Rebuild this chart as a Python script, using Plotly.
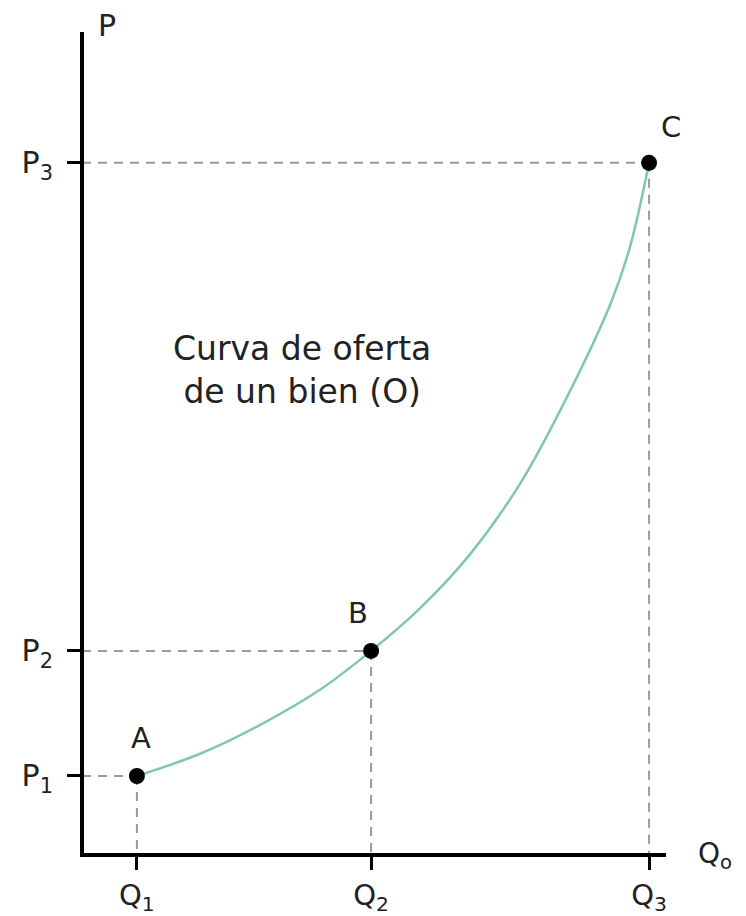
import plotly.graph_objects as go

# puntos A, B, C de la curva de oferta
point_names = ["A", "B", "C"]
q_values = [0.94, 4.95, 9.71]
p_values = [0.96, 2.48, 8.41]
q_labels = ["Q<sub>1</sub>", "Q<sub>2</sub>", "Q<sub>3</sub>"]
p_labels = ["P<sub>1</sub>", "P<sub>2</sub>", "P<sub>3</sub>"]

# curva
curve_q = [0.94, 2.02, 3.10, 4.08, 4.95, 5.79, 6.64, 7.50, 8.18, 9.04, 9.38, 9.71]
curve_p = [0.96, 1.23, 1.60, 2.01, 2.48, 3.00, 3.65, 4.51, 5.39, 6.68, 7.38, 8.41]

font = "DejaVu Sans, sans-serif"
txt = "#222"

fig = go.Figure()

# curva de oferta
fig.add_trace(go.Scatter(x=curve_q, y=curve_p, mode="lines",
                         line=dict(color="#80c9a6", width=2.5, shape="spline", smoothing=1.0),
                         hoverinfo="skip"))

# lineas punteadas hacia los ejes
for q, p in zip(q_values, p_values):
    fig.add_trace(go.Scatter(x=[0, q], y=[p, p], mode="lines",
                             line=dict(color="#9a9a9a", width=2, dash="9px,7px"), hoverinfo="skip"))
    fig.add_trace(go.Scatter(x=[q, q], y=[p, 0], mode="lines",
                             line=dict(color="#9a9a9a", width=2, dash="9px,7px"), hoverinfo="skip"))

# puntos
fig.add_trace(go.Scatter(x=q_values, y=p_values, mode="markers",
                         marker=dict(color="black", size=16), hoverinfo="skip"))

# letras de los puntos
label_shift = [(4, 38), (-13, 38), (22, 36)]
for name, q, p, (dx, dy) in zip(point_names, q_values, p_values, label_shift):
    fig.add_annotation(x=q, y=p, text=name, showarrow=False, xshift=dx, yshift=dy,
                       font=dict(size=29, color=txt, family=font))

fig.add_annotation(x=3.77, y=5.89, text="Curva de oferta<br>de un bien (O)", showarrow=False,
                   font=dict(size=33, color=txt, family=font), align="center")

# titulos de los ejes
fig.add_annotation(xref="paper", yref="paper", x=0, y=1, text="P", showarrow=False,
                   xanchor="left", yanchor="middle", xshift=12, yshift=7,
                   font=dict(size=30, color=txt, family=font))
fig.add_annotation(xref="paper", yref="paper", x=1, y=0, text="Q<sub>o</sub>", showarrow=False,
                   xanchor="left", yanchor="middle", xshift=30, yshift=-2,
                   font=dict(size=28, color=txt, family=font))

fig.update_xaxes(range=[0.034, 10.0], showline=True, linewidth=4, linecolor="black",
                 showgrid=False, zeroline=False, ticks="outside", ticklen=13, tickwidth=3,
                 tickcolor="black", tickvals=q_values, ticktext=q_labels, automargin=False,
                 ticklabelstandoff=0,
                 tickfont=dict(size=29, color=txt, family=font))
fig.update_yaxes(range=[0.024, 10.0], showline=True, linewidth=4, linecolor="black",
                 showgrid=False, zeroline=False, ticks="outside", ticklen=13, tickwidth=3,
                 tickcolor="black", tickvals=p_values, ticktext=p_labels, automargin=False,
                 ticklabelstandoff=8,
                 tickfont=dict(size=30, color=txt, family=font))

# la pagina tiene 8px de margen en el body
fig.update_layout(width=738, height=908, showlegend=False,
                  margin=dict(l=76, r=80, t=24, b=63),
                  plot_bgcolor="white", paper_bgcolor="white")

fig.write_html("out.html")
